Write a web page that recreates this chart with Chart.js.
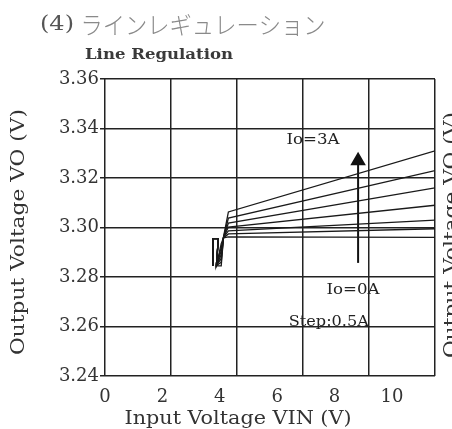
<!DOCTYPE html>
<html>
<head>
<meta charset="utf-8">
<script src="https://cdn.jsdelivr.net/npm/chart.js@4/dist/chart.umd.min.js"></script>
<style>
  body { margin: 0; background: #fff; }
</style>
</head>
<body>
<canvas id="lineRegChart" width="452" height="429"></canvas>
<script>
// input voltage points shared by every curve (V)
const vin = [3.76, 3.76, 3.95, 3.88, 4.05, 4.13, 4.3, 11.5];

// output voltage for each load current (V)
const vout30 = [3.2845, 3.2955, 3.2955, 3.2845, 3.2845, 3.2962, 3.3063, 3.3310];
const vout25 = [3.2845, 3.2955, 3.2955, 3.2845, 3.2860, 3.2960, 3.3038, 3.3230];
const vout20 = [3.2845, 3.2955, 3.2955, 3.2845, 3.2875, 3.2960, 3.3018, 3.3160];
const vout15 = [3.2845, 3.2955, 3.2955, 3.2845, 3.2890, 3.2960, 3.3002, 3.3090];
const vout10 = [3.2845, 3.2955, 3.2955, 3.2845, 3.2905, 3.2960, 3.2986, 3.3030];
const vout05 = [3.2845, 3.2955, 3.2955, 3.2845, 3.2920, 3.2958, 3.2974, 3.2995];
const vout00 = [3.2845, 3.2955, 3.2955, 3.2845, 3.2935, 3.2958, 3.2962, 3.2960];

const loadLabels = ['Io=3A', 'Io=2.5A', 'Io=2A', 'Io=1.5A', 'Io=1A', 'Io=0.5A', 'Io=0A'];
const voutLists = [vout30, vout25, vout20, vout15, vout10, vout05, vout00];

// arrow showing increasing load
const arrowX = [8.82, 8.82];
const arrowY = [3.2857, 3.327];

const yTicks = [3.24, 3.26, 3.28, 3.30, 3.32, 3.34, 3.36];
const xTicks = [0, 2, 4, 6, 8, 10];

const datasets = voutLists.map((list, i) => ({
    label: loadLabels[i],
    data: vin.map((v, j) => ({ x: v, y: list[j] })),
    borderColor: '#1a1a1a',
    borderWidth: 1.3,
    pointRadius: 0,
    tension: 0,
    fill: false
}));
datasets.push({
    label: 'arrow',
    data: arrowX.map((v, j) => ({ x: v, y: arrowY[j] })),
    borderColor: '#111',
    backgroundColor: '#111',
    borderWidth: 2,
    pointStyle: 'triangle',
    pointRadius: [0, 7],
    tension: 0
});

const fitText = (ctx, txt, x, y, font, color, width, rot) => {
    ctx.save();
    ctx.font = font;
    ctx.fillStyle = color;
    ctx.textAlign = 'center';
    ctx.textBaseline = 'middle';
    ctx.translate(x, y);
    if (rot) ctx.rotate(rot);
    if (width) {
        let w = ctx.measureText(txt).width;
        ctx.scale(width / w, 1);
    }
    ctx.fillText(txt, 0, 0);
    ctx.restore();
};

const textPlugin = {
    id: 'texts',
    afterDraw(chart) {
        let ctx = chart.ctx;
        let xs = chart.scales.x, ys = chart.scales.y;
        fitText(ctx, '(4)', 57, 25, "20px 'DejaVu Serif'", '#555', 34);
        fitText(ctx, 'ラインレギュレーション', 203, 25, "300 24px 'Noto Sans CJK JP'", '#8a8a8a', 245);
        fitText(ctx, 'Line Regulation', 159, 55, "bold 15px 'DejaVu Serif'", '#3a3a3a', 148);
        fitText(ctx, 'Output Voltage VO (V)', 19, 232, "18px 'DejaVu Serif'", '#333', 246, -Math.PI / 2);
        fitText(ctx, 'Output Voltage VO (V)', 452, 235, "18px 'DejaVu Serif'", '#333', 246, -Math.PI / 2);
        fitText(ctx, 'Input Voltage VIN (V)', 238, 419, "18px 'DejaVu Serif'", '#333', 227);
        fitText(ctx, 'Io=3A', xs.getPixelForValue(7.25), ys.getPixelForValue(3.3354), "15px 'DejaVu Serif'", '#222', 53);
        fitText(ctx, 'Io=0A', xs.getPixelForValue(8.64), ys.getPixelForValue(3.2748), "15px 'DejaVu Serif'", '#222', 53);
        fitText(ctx, 'Step:0.5A', xs.getPixelForValue(7.8), ys.getPixelForValue(3.2618), "14px 'DejaVu Serif'", '#222', 80);
    }
};

new Chart(document.getElementById('lineRegChart').getContext('2d'), {
    type: 'line',
    data: { datasets: datasets },
    options: {
        responsive: false,
        animation: false,
        layout: { padding: { top: 79, right: 17, left: 0, bottom: 0 } },
        plugins: { legend: { display: false }, tooltip: { enabled: false } },
        scales: {
            x: {
                type: 'linear',
                min: 0,
                max: 11.5,
                afterFit: (scale) => { scale.height = 53; },
                afterBuildTicks: (scale) => { scale.ticks = xTicks.map(v => ({ value: v })); },
                grid: { display: false },
                border: { display: false },
                ticks: {
                    padding: 3,
                    color: '#333',
                    font: { family: 'DejaVu Serif', size: 18 }
                }
            },
            xg: {
                type: 'linear',
                position: 'top',
                min: 0,
                max: 5,
                afterFit: (scale) => { scale.height = 0; },
                grid: { color: '#222', lineWidth: 1.5, drawTicks: false },
                border: { display: false },
                ticks: { display: false, stepSize: 1 }
            },
            y: {
                min: 3.24,
                max: 3.36,
                afterFit: (scale) => { scale.width = 105; },
                afterBuildTicks: (scale) => { scale.ticks = yTicks.map(v => ({ value: v })); },
                grid: { color: '#222', lineWidth: 1.5, tickLength: 5 },
                border: { display: false },
                ticks: {
                    padding: 1,
                    color: '#333',
                    font: { family: 'DejaVu Serif', size: 18 },
                    callback: (v) => v.toFixed(2)
                }
            }
        }
    },
    plugins: [textPlugin]
});
</script>
</body>
</html>
